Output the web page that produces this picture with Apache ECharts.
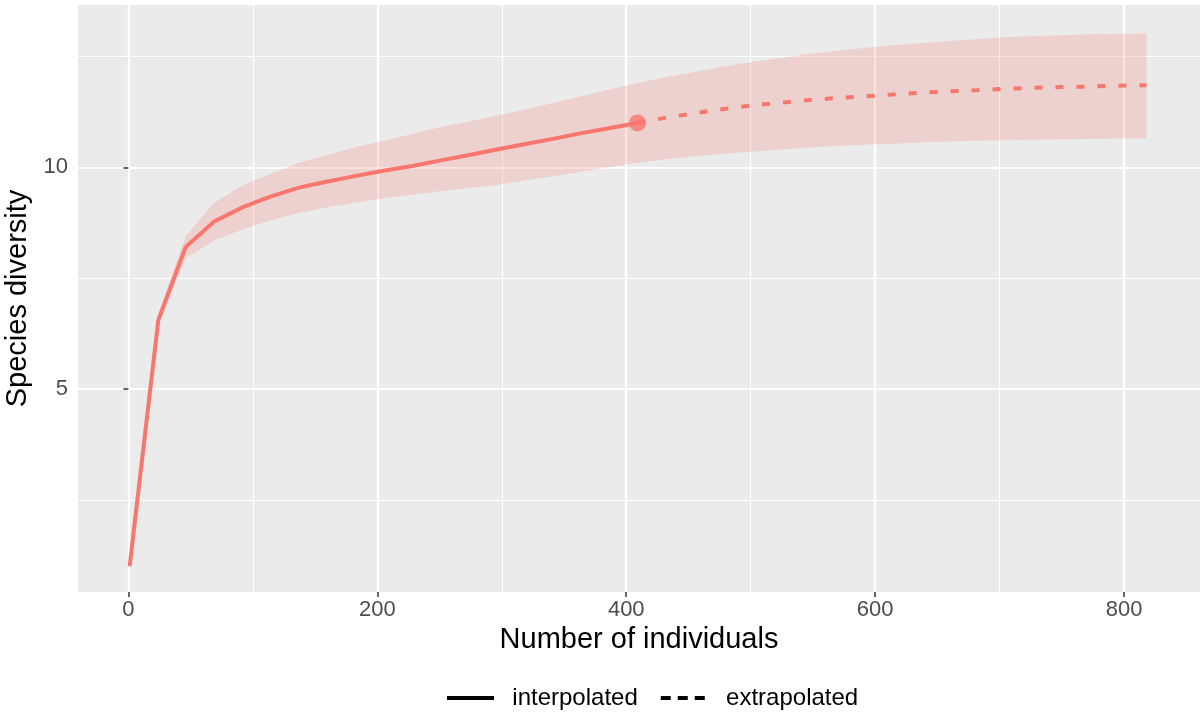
<!DOCTYPE html>
<html>
<head>
<meta charset="utf-8">
<script src="https://cdn.jsdelivr.net/npm/echarts@6/dist/echarts.min.js"></script>
<style>
html,body{margin:0;padding:0;background:#ffffff;}
#chart{width:1203px;height:713px;}
</style>
</head>
<body>
<div id="chart"></div>
<script>
// ---- data ----
const interpX = [1, 24, 46, 69, 92, 114, 137, 160, 182, 205, 228, 250, 273, 296, 318, 341, 364, 386, 409];
const interpY = [1.0, 6.55, 8.2, 8.78, 9.1, 9.34, 9.54, 9.68, 9.8, 9.92, 10.03, 10.15, 10.27, 10.4, 10.52, 10.64, 10.77, 10.88, 11.0];

const extrapX = [409, 432, 455, 477, 500, 523, 545, 568, 591, 614, 636, 659, 682, 704, 727, 750, 773, 795, 818];
const extrapY = [11.0, 11.12, 11.22, 11.31, 11.39, 11.45, 11.51, 11.56, 11.6, 11.64, 11.68, 11.71, 11.74, 11.77, 11.79, 11.81, 11.82, 11.84, 11.85];

const bandX = [1, 24, 46, 69, 92, 114, 137, 160, 182, 205, 228, 250, 273, 296, 318, 341, 364, 386, 409,
               432, 455, 477, 500, 523, 545, 568, 591, 614, 636, 659, 682, 704, 727, 750, 773, 795, 818];
const bandLower = [1.0, 6.45, 7.95, 8.35, 8.6, 8.8, 8.97, 9.1, 9.2, 9.3, 9.38, 9.46, 9.53, 9.6, 9.7, 9.8, 9.9, 10.0, 10.1,
                   10.18, 10.25, 10.3, 10.35, 10.4, 10.44, 10.48, 10.51, 10.53, 10.56, 10.58, 10.6, 10.61, 10.62, 10.63, 10.64, 10.65, 10.65];
const bandUpper = [1.0, 6.7, 8.45, 9.2, 9.6, 9.85, 10.1, 10.28, 10.45, 10.6, 10.75, 10.9, 11.03, 11.16, 11.3, 11.45, 11.6, 11.75, 11.9,
                   12.03, 12.15, 12.27, 12.37, 12.46, 12.55, 12.62, 12.69, 12.75, 12.8, 12.85, 12.89, 12.93, 12.96, 12.98, 13.0, 13.01, 13.02];

const observedPoint = [409, 11.0];

const xMajorTicks = [0, 200, 400, 600, 800];
const xMinorTicks = [100, 300, 500, 700];
const yMajorTicks = [5, 10];
const yMinorTicks = [2.5, 7.5, 12.5];

const seriesNames = ['interpolated', 'extrapolated'];
const xTitle = 'Number of individuals';
const yTitle = 'Species diversity';

// ---- chart ----
const FONT = '"Liberation Sans", Arial, Helvetica, sans-serif';
const RED = '#F8766D';
const chart = echarts.init(document.getElementById('chart'), null, {renderer: 'canvas'});

const xRange = {min: -40.5, max: 861};
const yRange = {min: 0.42, max: 13.66};

const option = {
  animation: false,
  backgroundColor: '#ffffff',
  textStyle: {fontFamily: FONT},
  grid: {
    left: 78, right: 3, top: 5, bottom: 121,
    show: true, backgroundColor: '#EBEBEB', borderWidth: 0,
    containLabel: false,
    outerBoundsMode: 'none'
  },
  legend: {
    data: [
      {name: seriesNames[0]},
      {name: seriesNames[1], lineStyle: {type: [10, 7]}}
    ],
    left: 440, top: 681,
    itemWidth: 47, itemHeight: 14, itemGap: 21,
    formatter: function (name) { return '  ' + name; },
    textStyle: {fontSize: 24, color: '#000000', fontFamily: FONT},
    lineStyle: {color: '#000000', width: 4},
    itemStyle: {opacity: 0},
    selectedMode: false
  },
  xAxis: [
    {
      type: 'value', min: xRange.min, max: xRange.max,
      axisLine: {show: false},
      axisTick: {show: true, customValues: xMajorTicks, length: 5, lineStyle: {color: '#333333', width: 1.5}},
      axisLabel: {customValues: xMajorTicks, color: '#4D4D4D', fontSize: 22, margin: 7, fontFamily: FONT},
      splitLine: {show: true, lineStyle: {color: '#FFFFFF', width: 2.2}},
      name: xTitle, nameLocation: 'middle', nameGap: 30,
      nameTextStyle: {fontSize: 29, color: '#000000', fontFamily: FONT}
    },
    {
      type: 'value', min: xRange.min, max: xRange.max, position: 'top',
      axisLine: {show: false},
      axisTick: {show: false, customValues: xMinorTicks},
      axisLabel: {show: false, customValues: xMinorTicks},
      splitLine: {show: true, lineStyle: {color: '#FFFFFF', width: 1.1}}
    }
  ],
  yAxis: [
    {
      type: 'value', min: yRange.min, max: yRange.max,
      axisLine: {show: false},
      axisTick: {show: true, customValues: yMajorTicks, length: 5, lineStyle: {color: '#333333', width: 1.5}},
      axisLabel: {customValues: yMajorTicks, color: '#4D4D4D', fontSize: 22, margin: 10, fontFamily: FONT},
      splitLine: {show: true, lineStyle: {color: '#FFFFFF', width: 2.2}},
      name: yTitle, nameLocation: 'middle', nameGap: 41,
      nameTextStyle: {fontSize: 29, color: '#000000', fontFamily: FONT}
    },
    {
      type: 'value', min: yRange.min, max: yRange.max, position: 'right',
      axisLine: {show: false},
      axisTick: {show: false, customValues: yMinorTicks},
      axisLabel: {show: false, customValues: yMinorTicks},
      splitLine: {show: true, lineStyle: {color: '#FFFFFF', width: 1.1}}
    }
  ],
  series: [
    {
      name: 'band',
      type: 'custom',
      xAxisIndex: 0, yAxisIndex: 0,
      silent: true,
      z: 1,
      data: bandX.map((x, i) => [x, bandLower[i], bandUpper[i]]),
      encode: {x: 0, y: [1, 2]},
      renderItem: function (params, api) {
        if (params.dataIndex !== 0) return null;
        const pts = [];
        for (let i = 0; i < bandX.length; i++) pts.push(api.coord([bandX[i], bandUpper[i]]));
        for (let i = bandX.length - 1; i >= 0; i--) pts.push(api.coord([bandX[i], bandLower[i]]));
        return {
          type: 'polygon',
          shape: {points: pts},
          style: {fill: 'rgba(248,118,109,0.22)', stroke: null}
        };
      }
    },
    {
      name: seriesNames[0],
      type: 'line',
      xAxisIndex: 0, yAxisIndex: 0,
      data: interpX.map((x, i) => [x, interpY[i]]),
      symbol: 'none',
      z: 3,
      lineStyle: {color: RED, width: 4, cap: 'butt', join: 'miter'},
      itemStyle: {color: RED}
    },
    {
      name: seriesNames[1],
      type: 'line',
      xAxisIndex: 0, yAxisIndex: 0,
      data: extrapX.map((x, i) => [x, extrapY[i]]),
      symbol: 'none',
      z: 3,
      lineStyle: {color: RED, width: 4, type: [8, 13], cap: 'butt'},
      itemStyle: {color: RED}
    },
    {
      name: 'observed',
      type: 'scatter',
      xAxisIndex: 0, yAxisIndex: 0,
      data: [observedPoint],
      symbol: 'circle',
      symbolSize: 17,
      z: 4,
      itemStyle: {color: RED}
    }
  ]
};
chart.setOption(option);
</script>
</body>
</html>
